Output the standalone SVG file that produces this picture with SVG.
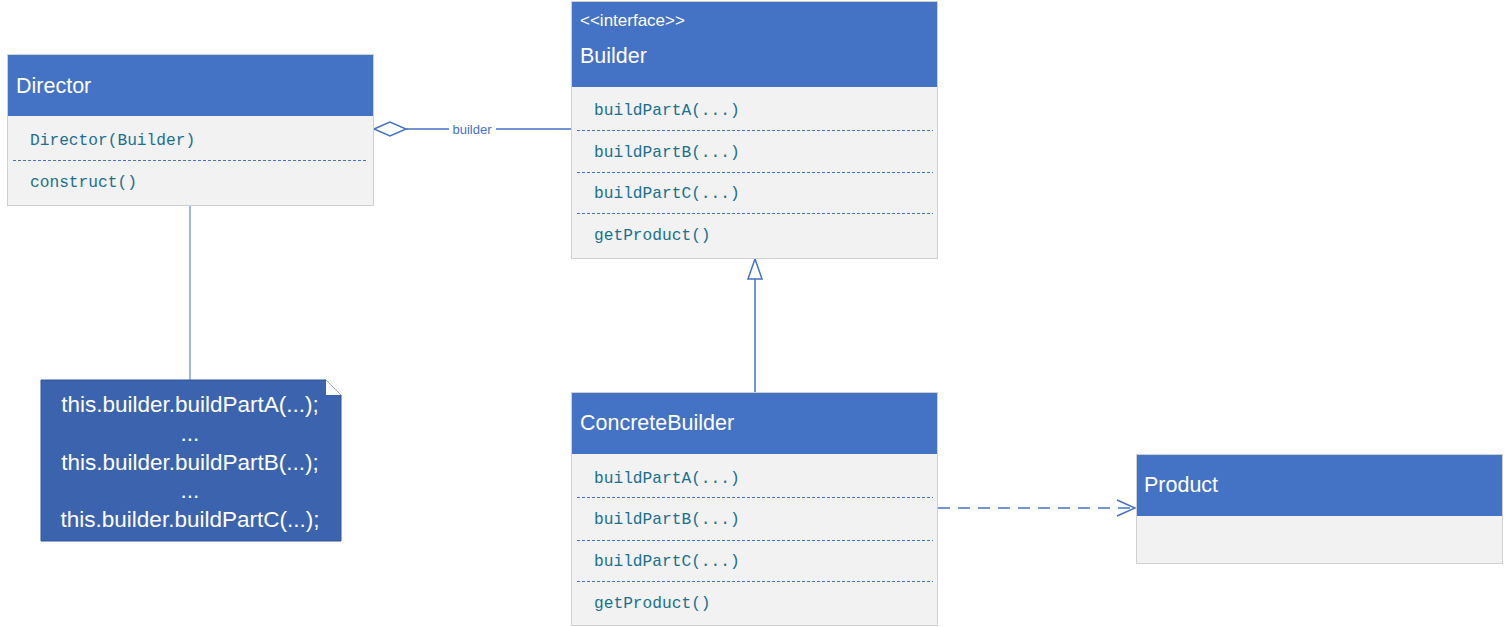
<svg xmlns="http://www.w3.org/2000/svg" width="1506" height="627" viewBox="0 0 1506 627">
<style>
.box{fill:#F2F2F2;stroke:#D0D0D0;stroke-width:1}
.hdr{fill:#4472C4}
.title{font-family:"Liberation Sans",Arial,sans-serif;font-size:21.5px;fill:#FFFFFF}
.stereo{font-family:"Liberation Sans",Arial,sans-serif;font-size:17px;fill:#FFFFFF}
.mem{font-family:"Liberation Mono","Courier New",monospace;font-size:16.2px;fill:#1B6F8F}
.sep{stroke:#4472C4;stroke-width:1;stroke-dasharray:3 2}
.conn{stroke:#4472C4;stroke-width:1.5;fill:none}
.note{font-family:"Liberation Sans",Arial,sans-serif;font-size:22.5px;fill:#FFFFFF;text-anchor:middle}
</style>
<rect width="1506" height="627" fill="#FFFFFF"/>
<g id="connectors">
  <line class="conn" x1="406" y1="129" x2="571" y2="129"/>
  <polygon points="374,129 390,122 406,129 390,136" fill="#FFFFFF" stroke="#4472C4" stroke-width="1.5"/>
  <rect x="449" y="121" width="47" height="16" fill="#FFFFFF"/>
  <text x="472" y="134" font-family="'Liberation Sans',Arial,sans-serif" font-size="13" fill="#4472C4" text-anchor="middle">builder</text>
  <line class="conn" x1="755" y1="392" x2="755" y2="279"/>
  <polygon points="755,259 748,279 762,279" fill="#FFFFFF" stroke="#4472C4" stroke-width="1.5"/>
  <line class="conn" x1="938" y1="508" x2="1134" y2="508" stroke-dasharray="12 8"/>
  <polyline class="conn" points="1117,500 1135,508 1117,516"/>
  <line x1="190" y1="200" x2="190" y2="380" stroke="#4472C4" stroke-width="1"/>
</g>
<g id="director">
  <rect class="box" x="7.5" y="54.5" width="366" height="151"/>
  <rect class="hdr" x="8" y="55" width="365" height="61"/>
  <text class="title" x="16" y="93">Director</text>
  <text class="mem" x="30" y="145">Director(Builder)</text>
  <line class="sep" x1="13" y1="160.5" x2="368" y2="160.5"/>
  <text class="mem" x="30" y="187">construct()</text>
</g>
<g id="builder">
  <rect class="box" x="571.5" y="1.5" width="366" height="257"/>
  <rect class="hdr" x="572" y="2" width="365" height="85"/>
  <text class="stereo" x="580" y="26">&lt;&lt;interface&gt;&gt;</text>
  <text class="title" x="580" y="63">Builder</text>
  <text class="mem" x="594" y="115">buildPartA(...)</text>
  <line class="sep" x1="577" y1="130.5" x2="933" y2="130.5"/>
  <text class="mem" x="594" y="157">buildPartB(...)</text>
  <line class="sep" x1="577" y1="172.5" x2="933" y2="172.5"/>
  <text class="mem" x="594" y="198">buildPartC(...)</text>
  <line class="sep" x1="577" y1="213.5" x2="933" y2="213.5"/>
  <text class="mem" x="594" y="240">getProduct()</text>
</g>
<g id="concretebuilder">
  <rect class="box" x="571.5" y="392.5" width="366" height="233"/>
  <rect class="hdr" x="572" y="393" width="365" height="61"/>
  <text class="title" x="580" y="430">ConcreteBuilder</text>
  <text class="mem" x="594" y="483">buildPartA(...)</text>
  <line class="sep" x1="577" y1="497.5" x2="933" y2="497.5"/>
  <text class="mem" x="594" y="524">buildPartB(...)</text>
  <line class="sep" x1="577" y1="540.5" x2="933" y2="540.5"/>
  <text class="mem" x="594" y="566">buildPartC(...)</text>
  <line class="sep" x1="577" y1="581.5" x2="933" y2="581.5"/>
  <text class="mem" x="594" y="608">getProduct()</text>
</g>
<g id="product">
  <rect class="box" x="1136.5" y="454.5" width="366" height="109"/>
  <rect class="hdr" x="1137" y="455" width="365" height="61"/>
  <text class="title" x="1144" y="492">Product</text>
</g>
<g id="note">
  <polygon points="41,380 326,380 341,395 341,541 41,541" fill="#3C64AE" stroke="#2F5597" stroke-width="1"/>
  <polygon points="326,380 341,395 326,395" fill="#FFFFFF"/>
  <text class="note" x="190" y="412">this.builder.buildPartA(...);</text>
  <text class="note" x="190" y="441">...</text>
  <text class="note" x="190" y="470">this.builder.buildPartB(...);</text>
  <text class="note" x="190" y="498">...</text>
  <text class="note" x="190" y="527">this.builder.buildPartC(...);</text>
</g>
</svg>
